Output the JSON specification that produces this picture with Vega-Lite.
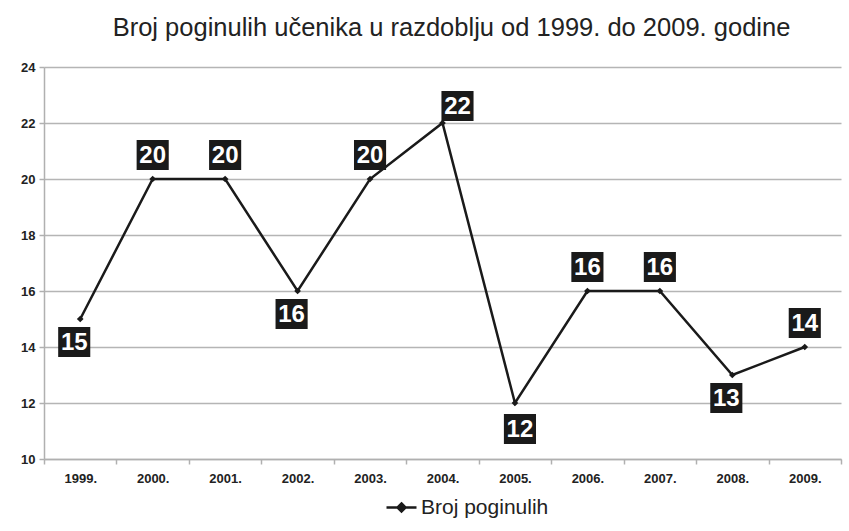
{
  "$schema": "https://vega.github.io/schema/vega-lite/v6.json",
  "width": 797,
  "height": 392,
  "autosize": {"type": "none"},
  "padding": {"left": 44, "top": 67, "right": 8, "bottom": 72},
  "background": "white",
  "config": {
    "view": {"stroke": null},
    "font": "Liberation Sans"
  },
  "title": {
    "text": "Broj poginulih učenika u razdoblju od 1999. do 2009. godine",
    "font": "Liberation Sans",
    "fontSize": 25.5,
    "fontWeight": "normal",
    "color": "#222222",
    "anchor": "middle",
    "dx": 9,
    "offset": 20
  },
  "data": {
    "values": [
      {"year": "1999.", "n": 15},
      {"year": "2000.", "n": 20},
      {"year": "2001.", "n": 20},
      {"year": "2002.", "n": 16},
      {"year": "2003.", "n": 20},
      {"year": "2004.", "n": 22},
      {"year": "2005.", "n": 12},
      {"year": "2006.", "n": 16},
      {"year": "2007.", "n": 16},
      {"year": "2008.", "n": 13},
      {"year": "2009.", "n": 14}
    ]
  },
  "encoding": {
    "x": {
      "field": "year",
      "type": "ordinal",
      "bandPosition": 0.5,
      "scale": {"type": "band", "paddingInner": 0, "paddingOuter": 0},
      "axis": {
        "title": null,
        "labelAngle": 0,
        "tickBand": "extent",
        "labelFont": "Liberation Sans",
        "labelFontWeight": "bold",
        "labelFontSize": 13,
        "labelColor": "#222222",
        "labelPadding": 8,
        "domainColor": "#b0b0b0",
        "domainWidth": 1.5,
        "tickColor": "#b0b0b0",
        "tickWidth": 1.5,
        "tickSize": 5
      }
    },
    "y": {
      "field": "n",
      "type": "quantitative",
      "scale": {"domain": [10, 24], "nice": false, "zero": false},
      "axis": {
        "title": null,
        "values": [10, 12, 14, 16, 18, 20, 22, 24],
        "grid": true,
        "gridColor": "#b5b5b5",
        "gridWidth": 1.5,
        "domainColor": "#b0b0b0",
        "domainWidth": 1.5,
        "tickColor": "#b0b0b0",
        "tickWidth": 1.5,
        "tickSize": 5,
        "labelFont": "Liberation Sans",
        "labelFontWeight": "bold",
        "labelFontSize": 13,
        "labelColor": "#222222",
        "labelPadding": 4
      }
    }
  },
  "layer": [
    {
      "mark": {"type": "line", "strokeWidth": 2.5},
      "encoding": {
        "color": {
          "datum": "Broj poginulih",
          "type": "nominal",
          "scale": {"range": ["#1a1a1a"]},
          "legend": {
            "title": null,
            "orient": "none",
            "legendX": 346,
            "legendY": 429,
            "symbolType": "M-1.5,0H1.5M0,-0.4L0.4,0L0,0.4L-0.4,0Z",
            "symbolSize": 400,
            "symbolStrokeWidth": 2.5,
            "symbolFillColor": "#1a1a1a",
            "labelFont": "Liberation Sans",
            "labelFontSize": 21,
            "labelColor": "#222222",
            "labelOffset": 8
          }
        }
      }
    },
    {
      "mark": {"type": "point", "shape": "diamond", "filled": true, "size": 45, "color": "#1a1a1a", "opacity": 1}
    },
    {
      "transform": [{"filter": {"field": "year", "oneOf": ["2000.", "2001.", "2003.", "2006.", "2007.", "2009."]}}],
      "layer": [
        {"mark": {"type": "point", "shape": "M-1.07,-1H1.07V1H-1.07Z", "size": 900, "filled": true, "color": "#1a1a1a", "opacity": 1, "yOffset": -24}},
        {"mark": {"type": "text", "font": "Liberation Sans", "fontWeight": "bold", "fontSize": 24, "color": "white", "baseline": "middle", "align": "center", "yOffset": -23}, "encoding": {"text": {"field": "n", "type": "quantitative"}}}
      ]
    },
    {
      "transform": [{"filter": {"field": "year", "oneOf": ["1999.", "2002.", "2008."]}}],
      "layer": [
        {"mark": {"type": "point", "shape": "M-1.07,-1H1.07V1H-1.07Z", "size": 900, "filled": true, "color": "#1a1a1a", "opacity": 1, "xOffset": -6, "yOffset": 23}},
        {"mark": {"type": "text", "font": "Liberation Sans", "fontWeight": "bold", "fontSize": 24, "color": "white", "baseline": "middle", "align": "center", "xOffset": -6, "yOffset": 24}, "encoding": {"text": {"field": "n", "type": "quantitative"}}}
      ]
    },
    {
      "transform": [{"filter": {"field": "year", "equal": "2005."}}],
      "layer": [
        {"mark": {"type": "point", "shape": "M-1.07,-1H1.07V1H-1.07Z", "size": 900, "filled": true, "color": "#1a1a1a", "opacity": 1, "xOffset": 5, "yOffset": 26}},
        {"mark": {"type": "text", "font": "Liberation Sans", "fontWeight": "bold", "fontSize": 24, "color": "white", "baseline": "middle", "align": "center", "xOffset": 5, "yOffset": 27}, "encoding": {"text": {"field": "n", "type": "quantitative"}}}
      ]
    },
    {
      "transform": [{"filter": {"field": "year", "equal": "2004."}}],
      "layer": [
        {"mark": {"type": "point", "shape": "M-1.07,-1H1.07V1H-1.07Z", "size": 900, "filled": true, "color": "#1a1a1a", "opacity": 1, "xOffset": 15, "yOffset": -17}},
        {"mark": {"type": "text", "font": "Liberation Sans", "fontWeight": "bold", "fontSize": 24, "color": "white", "baseline": "middle", "align": "center", "xOffset": 15, "yOffset": -16}, "encoding": {"text": {"field": "n", "type": "quantitative"}}}
      ]
    }
  ]
}
